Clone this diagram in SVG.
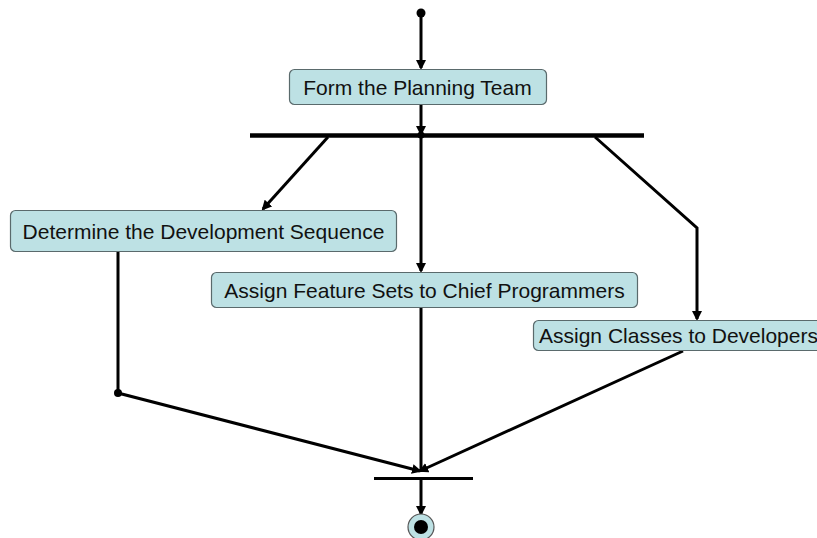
<svg xmlns="http://www.w3.org/2000/svg" width="817" height="538" viewBox="0 0 817 538">
<style>
.node rect{fill:#bde1e4;stroke:#5a6a6c;stroke-width:1.2}
.node text{font-family:"Liberation Sans",Arial,sans-serif;font-size:21px;fill:#111;text-anchor:middle}
.conn{stroke:#000;stroke-width:3;fill:none}
.bar{stroke:#000;fill:none}
</style>
<defs>
<marker id="arr" markerWidth="10" markerHeight="10" refX="8" refY="5" orient="auto" markerUnits="userSpaceOnUse">
<path d="M0,0 L10,5 L0,10 Z" fill="#000"/>
</marker>
</defs>
<rect width="817" height="538" fill="#fff"/>
<g id="connectors">
<line class="conn" x1="421" y1="13" x2="421" y2="68" marker-end="url(#arr)"/>
<line class="conn" x1="421" y1="105" x2="421" y2="134" marker-end="url(#arr)"/>
<line class="conn" x1="328" y1="137" x2="263" y2="209" marker-end="url(#arr)"/>
<line class="conn" x1="421" y1="135" x2="421" y2="271" marker-end="url(#arr)"/>
<polyline class="conn" points="595,137 697,228 697,319" marker-end="url(#arr)"/>
<polyline class="conn" points="118,252 118,393 420,471" marker-end="url(#arr)"/>
<line class="conn" x1="421" y1="308" x2="421" y2="472"/>
<line class="conn" x1="683" y1="351" x2="420" y2="471" marker-end="url(#arr)"/>
<line class="conn" x1="421" y1="478" x2="421" y2="514" marker-end="url(#arr)"/>
</g>
<g id="start"><circle cx="421" cy="13" r="4.5" fill="#000"/></g>
<g id="fork"><line class="bar" x1="250" y1="135.5" x2="644" y2="135.5" stroke-width="4.5"/><circle cx="421" cy="135" r="3.5" fill="#000"/></g>
<g id="join"><line class="bar" x1="374" y1="478.5" x2="473" y2="478.5" stroke-width="3"/></g>
<g id="merge"><circle cx="118" cy="393" r="4" fill="#000"/></g>
<g id="n1" class="node"><rect x="289.5" y="69.5" width="257" height="35" rx="5"/><text x="417.5" y="95">Form the Planning Team</text></g>
<g id="n2" class="node"><rect x="10.5" y="210.5" width="386" height="41" rx="5"/><text x="203.5" y="239">Determine the Development Sequence</text></g>
<g id="n3" class="node"><rect x="211.5" y="272.5" width="426" height="35" rx="5"/><text x="424.5" y="298">Assign Feature Sets to Chief Programmers</text></g>
<g id="n4" class="node"><rect x="533.5" y="320.5" width="290" height="30" rx="5"/><text x="678.5" y="343">Assign Classes to Developers</text></g>
<g id="end"><circle cx="421" cy="527" r="13" fill="#bde1e4" stroke="#555" stroke-width="1.2"/><circle cx="421" cy="527" r="7" fill="#000"/></g>
</svg>
